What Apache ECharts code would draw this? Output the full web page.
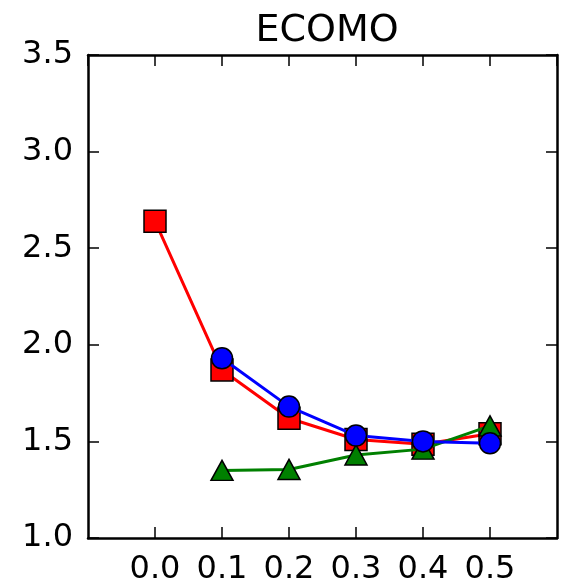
<!DOCTYPE html>
<html>
<head>
<meta charset="utf-8">
<script src="https://cdn.jsdelivr.net/npm/echarts@6/dist/echarts.min.js"></script>
<style>
  html, body { margin: 0; padding: 0; background: #fff; }
  #chart { width: 564px; height: 586px; }
</style>
</head>
<body>
<div id="chart"></div>
<script>
// values
var xRed = [0.0, 0.1, 0.2, 0.3, 0.4, 0.5];
var yRed = [2.64, 1.87, 1.62, 1.51, 1.485, 1.54];
var xBlue = [0.1, 0.2, 0.3, 0.4, 0.5];
var yBlue = [1.93, 1.68, 1.53, 1.50, 1.49];
var xGreen = [0.1, 0.2, 0.3, 0.4, 0.5];
var yGreen = [1.35, 1.355, 1.43, 1.46, 1.58];
var xTickLabels = ['0.0', '0.1', '0.2', '0.3', '0.4', '0.5'];
var yTickLabels = ['1.0', '1.5', '2.0', '2.5', '3.0', '3.5'];

function pairs(xs, ys) {
    return xs.map(function (x, i) { return [x, ys[i]]; });
}

var font = 'DejaVu Sans';
var axisLine = { show: true, onZero: false, lineStyle: { color: '#000', width: 2.5 } };
var tickIn = { show: true, inside: true, length: 11, lineStyle: { color: '#000', width: 1.5 } };

var chart = echarts.init(document.getElementById('chart'));

chart.setOption({
    animation: false,
    title: {
        text: 'ECOMO',
        left: 322,
        textAlign: 'center',
        top: 7,
        textStyle: { fontFamily: font, fontSize: 38, fontWeight: 'normal', color: '#000' }
    },
    grid: { left: 88, right: 7, top: 55, bottom: 43 },
    xAxis: [{
        type: 'value', min: -0.1, max: 0.6, interval: 0.1,
        axisLine: axisLine, axisTick: tickIn, splitLine: { show: false },
        axisLabel: {
            margin: 16, color: '#000', fontFamily: font, fontSize: 32,
            showMinLabel: false, showMaxLabel: false,
            formatter: function (v) {
                var i = Math.round(v * 10);
                return (i >= 0 && i < xTickLabels.length) ? xTickLabels[i] : '';
            }
        }
    }, {
        type: 'value', position: 'top', min: -0.1, max: 0.6, interval: 0.1,
        axisLine: axisLine, axisTick: tickIn, axisLabel: { show: false }, splitLine: { show: false }
    }],
    yAxis: [{
        type: 'value', min: 1.0, max: 3.5, interval: 0.5,
        axisLine: axisLine, axisTick: tickIn, splitLine: { show: false },
        axisLabel: {
            margin: 15, color: '#000', fontFamily: font, fontSize: 32,
            formatter: function (v) {
                var i = Math.round((v - 1.0) * 2);
                return yTickLabels[i] || '';
            }
        }
    }, {
        type: 'value', position: 'right', min: 1.0, max: 3.5, interval: 0.5,
        axisLine: axisLine, axisTick: tickIn, axisLabel: { show: false }, splitLine: { show: false }
    }],
    series: [{
        name: 'red', type: 'line', z: 2,
        data: pairs(xRed, yRed),
        symbol: 'rect', symbolSize: 22,
        lineStyle: { color: '#ff0000', width: 3 },
        itemStyle: { color: '#ff0000', borderColor: '#000', borderWidth: 1.5 }
    }, {
        name: 'green', type: 'line', z: 3,
        data: pairs(xGreen, yGreen),
        symbol: 'triangle', symbolSize: [22, 20],
        lineStyle: { color: '#008000', width: 3 },
        itemStyle: { color: '#008000', borderColor: '#000', borderWidth: 1.5 }
    }, {
        name: 'blue', type: 'line', z: 4,
        data: pairs(xBlue, yBlue),
        symbol: 'circle', symbolSize: 21,
        lineStyle: { color: '#0000ff', width: 3 },
        itemStyle: { color: '#0000ff', borderColor: '#000', borderWidth: 1.5 }
    }]
});
</script>
</body>
</html>
